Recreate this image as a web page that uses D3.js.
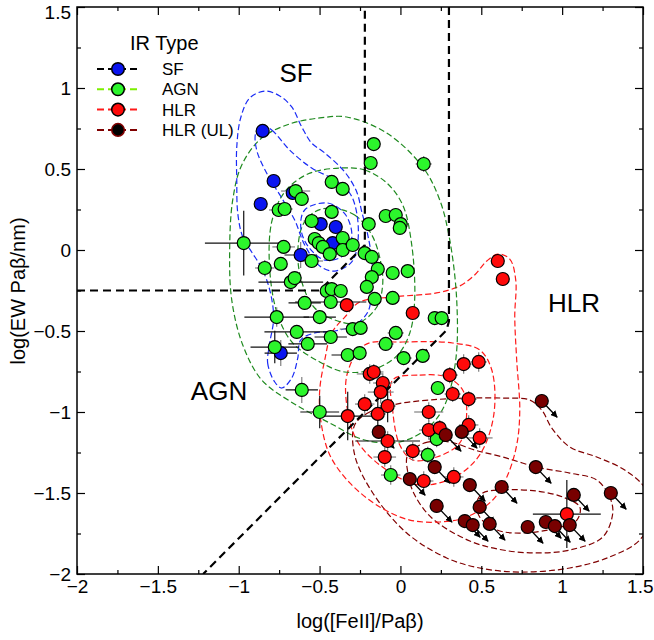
<!DOCTYPE html>
<html><head><meta charset="utf-8">
<script src="https://cdn.jsdelivr.net/npm/d3@7"></script>
<style>
body{margin:0;background:#fff}
svg{display:block;font-family:"Liberation Sans",Arial,sans-serif}
</style>
</head><body>
<svg id="chart" width="654" height="640"></svg>
<script>
// ---- Diagnostic sample: log([FeII]/Paβ) vs log(EW Paβ) ----
const sfX = [-0.852,-0.784,-0.864,-0.666,-0.493,-0.400,-0.617,-0.419,-0.740];
const sfY = [0.735,0.426,0.284,0.352,0.160,0.142,-0.031,0.043,-0.636];
const sfXerr = [0,0,0,0,0,0,0.10,0,0.10];
const sfYerr = [0,0,0,0,0,0,0.08,0,0.08];

const agnX = [-0.969,-0.722,-0.839,-0.740,-0.678,-0.654,-0.549,-0.648,-0.610,-0.753,-0.716,-0.549,-0.530,-0.505,-0.480,-0.437,-0.357,-0.357,-0.295,-0.425,-0.357,-0.425,-0.196,-0.165,-0.184,0.144,-0.091,-0.029,0.002,-0.004,-0.221,-0.177,-0.140,-0.048,0.045,-0.177,-0.208,-0.159,-0.048,-0.456,-0.425,-0.369,-0.431,-0.592,-0.765,-0.499,-0.641,-0.295,-0.246,-0.431,-0.573,-0.777,-0.326,-0.252,-0.091,-0.029,0.020,0.138,0.212,0.255,0.231,0.224,0.169,-0.060,-0.610,-0.499];
const agnY = [0.043,0.019,-0.111,-0.086,-0.198,-0.173,-0.068,0.364,0.315,0.247,0.253,0.179,0.068,0.043,0.019,-0.025,0.074,0.000,0.031,0.420,0.377,0.235,0.160,0.654,0.537,0.531,0.210,0.216,0.160,0.136,-0.019,-0.043,-0.117,-0.142,-0.130,-0.167,-0.228,-0.302,-0.296,-0.253,-0.241,-0.253,-0.321,-0.327,-0.414,-0.414,-0.506,-0.488,-0.481,-0.537,-0.580,-0.599,-0.648,-0.636,-0.580,-0.512,-0.667,-0.654,-0.420,-0.420,-0.852,-1.167,-1.265,-1.389,-0.864,-1.000];
const agnXerr = [0.24,0.07,0.06,0,0.20,0,0.07,0.09,0,0.06,0.05,0.05,0,0,0,0,0,0,0,0,0,0,0,0,0,0.05,0,0,0,0,0,0,0,0,0,0,0,0,0,0,0,0,0.22,0.10,0.20,0.10,0.20,0.08,0,0.10,0.12,0.15,0.10,0,0.05,0.05,0.05,0,0,0,0.04,0.04,0.05,0.06,0.10,0.12];
const agnYerr = [0.20,0,0.05,0,0,0,0,0,0,0,0,0,0,0,0,0,0,0,0,0,0,0,0,0,0,0.05,0,0,0,0,0,0,0,0,0,0,0,0,0,0,0,0,0,0,0.06,0,0,0,0,0,0,0.10,0,0,0,0,0,0,0,0,0.04,0.05,0.05,0.06,0.08,0.10];

const hlrX = [-0.332,0.076,0.602,0.633,-0.190,-0.165,-0.109,-0.122,-0.221,-0.079,-0.140,-0.326,0.175,0.175,0.243,-0.079,0.076,-0.097,0.144,0.330,0.305,0.323,0.391,0.484,0.422,0.422,0.490,1.029];
const hlrY = [-0.340,-0.389,-0.068,-0.179,-0.765,-0.753,-0.821,-0.877,-0.951,-0.963,-1.012,-1.025,-1.000,-1.111,-1.099,-1.179,-1.241,-1.278,-1.426,-1.401,-0.772,-0.889,-0.704,-0.691,-0.920,-1.080,-1.160,-1.630];
const hlrXerr = [0,0,0,0,0.08,0.06,0.06,0.08,0.06,0.05,0.05,0.15,0.09,0.06,0.05,0.20,0.06,0.07,0.06,0.06,0.05,0.05,0.05,0.05,0.05,0.06,0.08,0.21];
const hlrYerr = [0,0,0,0,0.06,0.05,0.06,0.07,0.06,0.10,0.10,0.15,0.06,0.06,0.05,0.06,0.06,0.06,0.06,0.06,0.05,0.05,0.06,0.06,0.05,0.06,0.06,0.21];

// upper limits on [FeII]/Paβ and EW (arrows)
const ulX = [-0.134,0.280,0.379,0.212,0.058,0.429,0.626,0.837,0.874,0.490,0.224,0.398,0.447,0.552,0.787,0.899,0.955,1.047,1.072,1.301];
const ulY = [-1.123,-1.142,-1.123,-1.340,-1.414,-1.451,-1.463,-1.340,-0.932,-1.586,-1.580,-1.673,-1.698,-1.691,-1.710,-1.679,-1.704,-1.698,-1.512,-1.500];

// density contours of each class, in data coordinates
const sfContours = [
  [[-0.808,-0.574],[-0.821,-0.698],[-0.777,-0.815],[-0.734,-0.852],[-0.672,-0.790],[-0.635,-0.667],[-0.617,-0.556],[-0.530,-0.512],[-0.406,-0.500],[-0.283,-0.463],[-0.202,-0.383],[-0.177,-0.247],[-0.177,-0.062],[-0.202,0.093],[-0.239,0.235],[-0.270,0.358],[-0.344,0.481],[-0.468,0.599],[-0.549,0.660],[-0.610,0.759],[-0.672,0.883],[-0.746,0.951],[-0.839,0.981],[-0.932,0.938],[-0.988,0.815],[-1.012,0.636],[-1.012,0.432],[-1.006,0.228],[-0.975,0.080],[-0.920,-0.012],[-0.858,-0.111],[-0.808,-0.247],[-0.784,-0.420]],
  [[-0.858,0.772],[-0.796,0.741],[-0.685,0.617],[-0.549,0.506],[-0.406,0.432],[-0.314,0.352],[-0.270,0.228],[-0.264,0.043],[-0.301,-0.074],[-0.406,-0.130],[-0.499,-0.099],[-0.592,0.031],[-0.654,0.185],[-0.734,0.321],[-0.821,0.463],[-0.889,0.617],[-0.895,0.722]],
  [[-0.592,0.247],[-0.450,0.290],[-0.338,0.216],[-0.301,0.074],[-0.357,-0.037],[-0.468,-0.062],[-0.573,0.025],[-0.616,0.136]]
];
const agnContours = [
  [[-0.332,0.821],[-0.085,0.722],[0.138,0.512],[0.243,0.309],[0.305,0.062],[0.348,-0.309],[0.342,-0.679],[0.274,-0.957],[0.169,-1.099],[-0.004,-1.185],[-0.221,-1.173],[-0.437,-1.068],[-0.666,-0.944],[-0.858,-0.802],[-0.975,-0.586],[-1.043,-0.309],[-1.056,0.000],[-1.037,0.309],[-0.981,0.525],[-0.858,0.691],[-0.685,0.778],[-0.499,0.815]],
  [[-0.375,0.506],[-0.221,0.494],[-0.085,0.414],[0.014,0.278],[0.070,0.031],[0.088,-0.309],[0.058,-0.512],[-0.017,-0.648],[-0.159,-0.735],[-0.344,-0.753],[-0.499,-0.691],[-0.666,-0.574],[-0.759,-0.401],[-0.808,-0.123],[-0.796,0.173],[-0.716,0.358],[-0.573,0.469]],
  [[-0.437,0.259],[-0.283,0.216],[-0.177,0.093],[-0.122,-0.074],[-0.110,-0.216],[-0.146,-0.352],[-0.264,-0.451],[-0.406,-0.432],[-0.530,-0.358],[-0.604,-0.216],[-0.635,-0.031],[-0.604,0.154],[-0.530,0.235]]
];
const hlrContours = [
  [[-0.468,-0.679],[-0.425,-0.512],[-0.344,-0.414],[-0.252,-0.321],[-0.048,-0.290],[0.224,-0.265],[0.367,-0.222],[0.459,-0.154],[0.534,-0.068],[0.602,-0.025],[0.676,-0.056],[0.713,-0.185],[0.707,-0.414],[0.719,-0.679],[0.738,-0.988],[0.719,-1.204],[0.658,-1.401],[0.571,-1.543],[0.410,-1.648],[0.243,-1.679],[0.058,-1.667],[-0.128,-1.586],[-0.313,-1.438],[-0.437,-1.265],[-0.493,-1.049],[-0.499,-0.864]],
  [[-0.221,-0.586],[0.014,-0.568],[0.323,-0.574],[0.490,-0.617],[0.565,-0.741],[0.577,-1.019],[0.490,-1.265],[0.336,-1.401],[0.119,-1.451],[-0.085,-1.358],[-0.264,-1.185],[-0.332,-0.957],[-0.326,-0.753]],
  [[-0.048,-0.802],[0.119,-0.772],[0.286,-0.784],[0.385,-0.864],[0.410,-0.988],[0.367,-1.191],[0.224,-1.278],[0.076,-1.296],[-0.004,-1.204],[-0.048,-0.988]]
];
const ulContours = [
  [[-0.283,-1.080],[-0.190,-1.000],[-0.023,-0.951],[0.181,-0.926],[0.429,-0.914],[0.633,-0.914],[0.800,-0.926],[0.874,-0.988],[0.936,-1.099],[1.047,-1.216],[1.214,-1.278],[1.387,-1.358],[1.511,-1.469],[1.554,-1.636],[1.480,-1.790],[1.294,-1.895],[1.047,-1.963],[0.738,-1.988],[0.490,-1.963],[0.286,-1.901],[0.039,-1.747],[-0.171,-1.500],[-0.283,-1.265]],
  [[0.045,-1.265],[0.150,-1.191],[0.305,-1.185],[0.459,-1.235],[0.633,-1.278],[0.843,-1.340],[1.047,-1.377],[1.214,-1.420],[1.294,-1.525],[1.313,-1.623],[1.251,-1.772],[1.047,-1.852],[0.843,-1.870],[0.633,-1.852],[0.429,-1.796],[0.194,-1.654],[0.082,-1.500],[0.045,-1.370]],
  [[0.509,-1.500],[0.633,-1.481],[0.843,-1.488],[1.004,-1.525],[1.109,-1.586],[1.091,-1.667],[0.967,-1.716],[0.756,-1.747],[0.596,-1.728],[0.490,-1.648],[0.472,-1.562]]
];

// classification boundaries
const sfBoundary = [[-2,-0.25],[-0.5,-0.25],[-0.22,0.03],[-0.22,1.5]];
const hlrBoundary = [[0.3,1.5],[0.3,-0.44],[0.285,-0.495],[-1.22,-2]];

const majorTicks = [-2,-1.5,-1,-0.5,0,0.5,1,1.5];
const minorTicks = [-1.75,-1.25,-0.75,-0.25,0.25,0.75,1.25];

const legendLabels = ["SF","AGN","HLR","HLR (UL)"];

// ---- layout ----
const svg = d3.select("#chart");
const L = 77, R = 643, T = 7, B = 574;
const x = d3.scaleLinear().domain([-2,1.5]).range([L,R]);
const y = d3.scaleLinear().domain([-2,1.5]).range([B,T]);

const col = {
  sfFill:"#0a14f0", agnFill:"#2cf52c", hlrFill:"#ff0a0a", ulFill:"#780000",
  sfLine:"#1a2cf5", agnLine:"#1f8a1f", hlrLine:"#ff1a1a", ulLine:"#800000"
};

svg.append("rect").attr("width",654).attr("height",640).attr("fill","#fff");
svg.append("defs").append("clipPath").attr("id","plot")
  .append("rect").attr("x",L).attr("y",T).attr("width",R-L).attr("height",B-T);
svg.select("defs").append("marker").attr("id","ah")
  .attr("viewBox","0 0 10 10").attr("refX",9).attr("refY",5)
  .attr("markerWidth",7).attr("markerHeight",7).attr("markerUnits","userSpaceOnUse")
  .attr("orient","auto")
  .append("path").attr("d","M0,0 L10,5 L0,10 z").attr("fill","#000");

const plot = svg.append("g").attr("clip-path","url(#plot)");

// contours
const contourLine = d3.line().x(d=>x(d[0])).y(d=>y(d[1])).curve(d3.curveCatmullRomClosed.alpha(0.5));
function drawContours(set, color){
  plot.append("g").selectAll("path").data(set).join("path")
    .attr("d",contourLine).attr("fill","none").attr("stroke",color)
    .attr("stroke-width",1.2).attr("stroke-dasharray","6,3");
}
drawContours(ulContours, col.ulLine);
drawContours(hlrContours, col.hlrLine);
drawContours(agnContours, col.agnLine);
drawContours(sfContours, col.sfLine);

// boundaries
const polyLine = d3.line().x(d=>x(d[0])).y(d=>y(d[1]));
[sfBoundary, hlrBoundary].forEach(b=>{
  plot.append("path").attr("d",polyLine(b)).attr("fill","none")
    .attr("stroke","#000").attr("stroke-width",2.2).attr("stroke-dasharray","8,5");
});

// points
function rows(xs, ys, xe, ye){ return xs.map((v,i)=>({x:v,y:ys[i],xe:xe?xe[i]:0,ye:ye?ye[i]:0})); }
function drawErrors(data){
  const g = plot.append("g");
  data.forEach(d=>{
    if(d.xe>0) g.append("line").attr("x1",x(d.x-d.xe)).attr("x2",x(d.x+d.xe))
      .attr("y1",y(d.y)).attr("y2",y(d.y))
      .attr("stroke", d.xe>0.09?"#111":"#808080").attr("stroke-width",1.2);
    if(d.ye>0) g.append("line").attr("x1",x(d.x)).attr("x2",x(d.x))
      .attr("y1",y(d.y-d.ye)).attr("y2",y(d.y+d.ye))
      .attr("stroke", d.ye>0.09?"#111":"#808080").attr("stroke-width",1.2);
  });
}
function drawPoints(data, fill){
  plot.append("g").selectAll("circle").data(data).join("circle")
    .attr("cx",d=>x(d.x)).attr("cy",d=>y(d.y)).attr("r",6.5)
    .attr("fill",fill).attr("stroke","#000").attr("stroke-width",1.2);
}
const sfData = rows(sfX,sfY,sfXerr,sfYerr);
const agnData = rows(agnX,agnY,agnXerr,agnYerr);
const hlrData = rows(hlrX,hlrY,hlrXerr,hlrYerr);
const ulData = rows(ulX,ulY);

drawErrors(sfData); drawErrors(agnData); drawErrors(hlrData);

// limit arrows
plot.append("g").selectAll("line").data(ulData).join("line")
  .attr("x1",d=>x(d.x)).attr("y1",d=>y(d.y))
  .attr("x2",d=>x(d.x+0.095)).attr("y2",d=>y(d.y-0.10))
  .attr("stroke","#000").attr("stroke-width",1.3).attr("marker-end","url(#ah)");

drawPoints(sfData, col.sfFill);
drawPoints(agnData, col.agnFill);
drawPoints(hlrData, col.hlrFill);
drawPoints(ulData, col.ulFill);

// frame
svg.append("rect").attr("x",L).attr("y",T).attr("width",R-L).attr("height",B-T)
  .attr("fill","none").attr("stroke","#000").attr("stroke-width",1.5);

// axes
const fmt = d3.format("~g");
function axis(gen, tx, ty, values, size, labels){
  const a = gen.tickValues(values).tickSize(-size).tickPadding(6)
    .tickFormat(labels ? fmt : "");
  const g = svg.append("g").attr("transform",`translate(${tx},${ty})`).call(a);
  g.select(".domain").remove();
  g.selectAll(".tick line").attr("stroke","#000").attr("stroke-width",1.2);
  g.selectAll("text").attr("font-size",19).attr("fill","#000")
    .attr("font-family","'Liberation Sans',Arial,sans-serif");
  return g;
}
const xAx = axis(d3.axisBottom(x), 0, B, majorTicks, 8, true);
axis(d3.axisBottom(x), 0, B, minorTicks, 4, false);
axis(d3.axisTop(x), 0, T, majorTicks, 8, false);
axis(d3.axisTop(x), 0, T, minorTicks, 4, false);
const yAx = axis(d3.axisLeft(y), L, 0, majorTicks, 8, true);
axis(d3.axisLeft(y), L, 0, minorTicks, 4, false);
axis(d3.axisRight(y), R, 0, majorTicks, 8, false);
axis(d3.axisRight(y), R, 0, minorTicks, 4, false);

// keep the outermost tick labels inside the canvas
xAx.selectAll(".tick").filter(d=>d===1.5).select("text").attr("text-anchor","end").attr("x",10);
yAx.selectAll(".tick").filter(d=>d===1.5).select("text").attr("y",5);

// axis titles
svg.append("text").attr("x",360).attr("y",628).attr("text-anchor","middle")
  .attr("font-size",20).text("log([FeII]/Paβ)");
svg.append("text").attr("transform","translate(25,291) rotate(-90)")
  .attr("text-anchor","middle").attr("font-size",20).text("log(EW Paβ/nm)");

// region labels
svg.append("text").attr("x",296).attr("y",82).attr("text-anchor","middle").attr("font-size",26).text("SF");
svg.append("text").attr("x",219).attr("y",400).attr("text-anchor","middle").attr("font-size",26).text("AGN");
svg.append("text").attr("x",574).attr("y",312).attr("text-anchor","middle").attr("font-size",26).text("HLR");

// legend
const lg = svg.append("g");
lg.append("text").attr("x",130).attr("y",50).attr("font-size",20).text("IR Type");
const legendLine = ["#000","#7cf000",col.hlrLine,col.ulLine];
const legendFill = [col.sfFill,col.agnFill,col.hlrFill,"#000"];
const legendEdge = ["#000","#000","#000",col.ulLine];
legendLabels.forEach((t,i)=>{
  const cy = 69 + i*20.3;
  lg.append("line").attr("x1",97).attr("x2",140).attr("y1",cy).attr("y2",cy)
    .attr("stroke",legendLine[i]).attr("stroke-width",2).attr("stroke-dasharray","7,4");
  lg.append("circle").attr("cx",118).attr("cy",cy).attr("r",6.3)
    .attr("fill",legendFill[i]).attr("stroke",legendEdge[i]).attr("stroke-width",1.5);
  lg.append("text").attr("x",162).attr("y",cy+6).attr("font-size",17).text(t);
});
</script>
</body></html>
